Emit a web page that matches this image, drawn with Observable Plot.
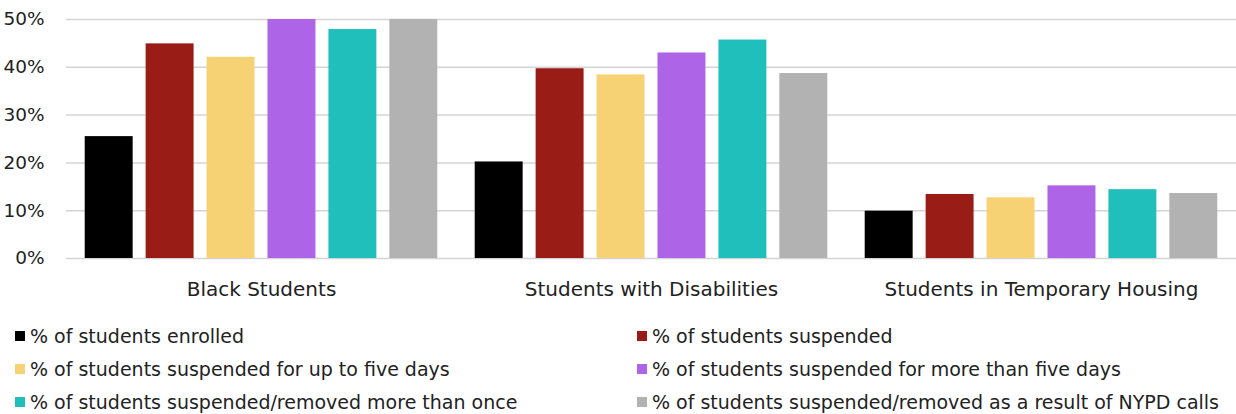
<!DOCTYPE html>
<html>
<head>
<meta charset="utf-8">
<script src="https://cdn.jsdelivr.net/npm/d3@7"></script>
<script src="https://cdn.jsdelivr.net/npm/@observablehq/plot@0.6"></script>
<style>
  html, body { margin: 0; padding: 0; background: #fff; }
  body { width: 1236px; font-family: "DejaVu Sans", sans-serif; color: #222; }
  #legend { position: relative; height: 102px; }
  .item { position: absolute; display: flex; align-items: center; font-size: 19px; white-space: nowrap; }
  .sw { width: 10px; height: 10px; margin-right: 5px; }
</style>
</head>
<body>
<div id="chart"></div>
<div id="legend"></div>
<script>
const groups = ["Black Students", "Students with Disabilities", "Students in Temporary Housing"];
const series = [
  "% of students enrolled",
  "% of students suspended",
  "% of students suspended for up to five days",
  "% of students suspended for more than five days",
  "% of students suspended/removed more than once",
  "% of students suspended/removed as a result of NYPD calls"
];
const colors = ["#000000", "#9a1c16", "#f7d274", "#ad64e6", "#20bfbb", "#b2b2b2"];
// values per series, in group order
const enrolled      = [25.5, 20.2, 9.9];
const suspended     = [44.9, 39.7, 13.4];
const upToFive      = [42.1, 38.4, 12.7];
const moreThanFive  = [50.0, 43.0, 15.2];
const moreThanOnce  = [47.9, 45.7, 14.4];
const nypd          = [50.0, 38.7, 13.6];
const yTicks = [0, 10, 20, 30, 40, 50];

const seriesValues = [enrolled, suspended, upToFive, moreThanFive, moreThanOnce, nypd];
const data = [];
groups.forEach((g, gi) => {
  series.forEach((s, si) => data.push({group: g, series: s, value: seriesValues[si][gi]}));
});

const chart = Plot.plot({
  width: 1236,
  height: 312,
  marginTop: 19,
  marginBottom: 54,
  marginLeft: 66,
  marginRight: 0,
  style: {fontFamily: "'DejaVu Sans', sans-serif", fontSize: "18px", color: "#222", background: "#fff"},
  fx: {domain: groups, padding: 0, round: false, label: null},
  x: {domain: series, paddingInner: 0.213, paddingOuter: 0.307, round: false, axis: null},
  y: {domain: [0, 50], label: null},
  color: {domain: series, range: colors},
  marks: [
    Plot.gridY(yTicks, {stroke: "#d4d4d4", strokeOpacity: 1, strokeWidth: 1.5}),
    Plot.barY(data, {fx: "group", x: "series", y: "value", fill: "series"}),
    Plot.axisY(yTicks, {tickSize: 0, tickPadding: 22, tickFormat: d => d + "%", fontSize: 18.5, label: null}),
    Plot.axisFx({anchor: "bottom", tickSize: 0, tickPadding: 23, fontSize: 20, label: null})
  ]
});
document.getElementById("chart").appendChild(chart);

const legend = document.getElementById("legend");
const cols = [15, 637];
series.forEach((s, i) => {
  const row = Math.floor(i / 2), col = i % 2;
  const div = document.createElement("div");
  div.className = "item";
  div.style.left = cols[col] + "px";
  div.style.top = (25 + row * 33 - 12) + "px";
  div.innerHTML = `<span class="sw" style="background:${colors[i]}"></span><span>${s}</span>`;
  legend.appendChild(div);
});
</script>
</body>
</html>
